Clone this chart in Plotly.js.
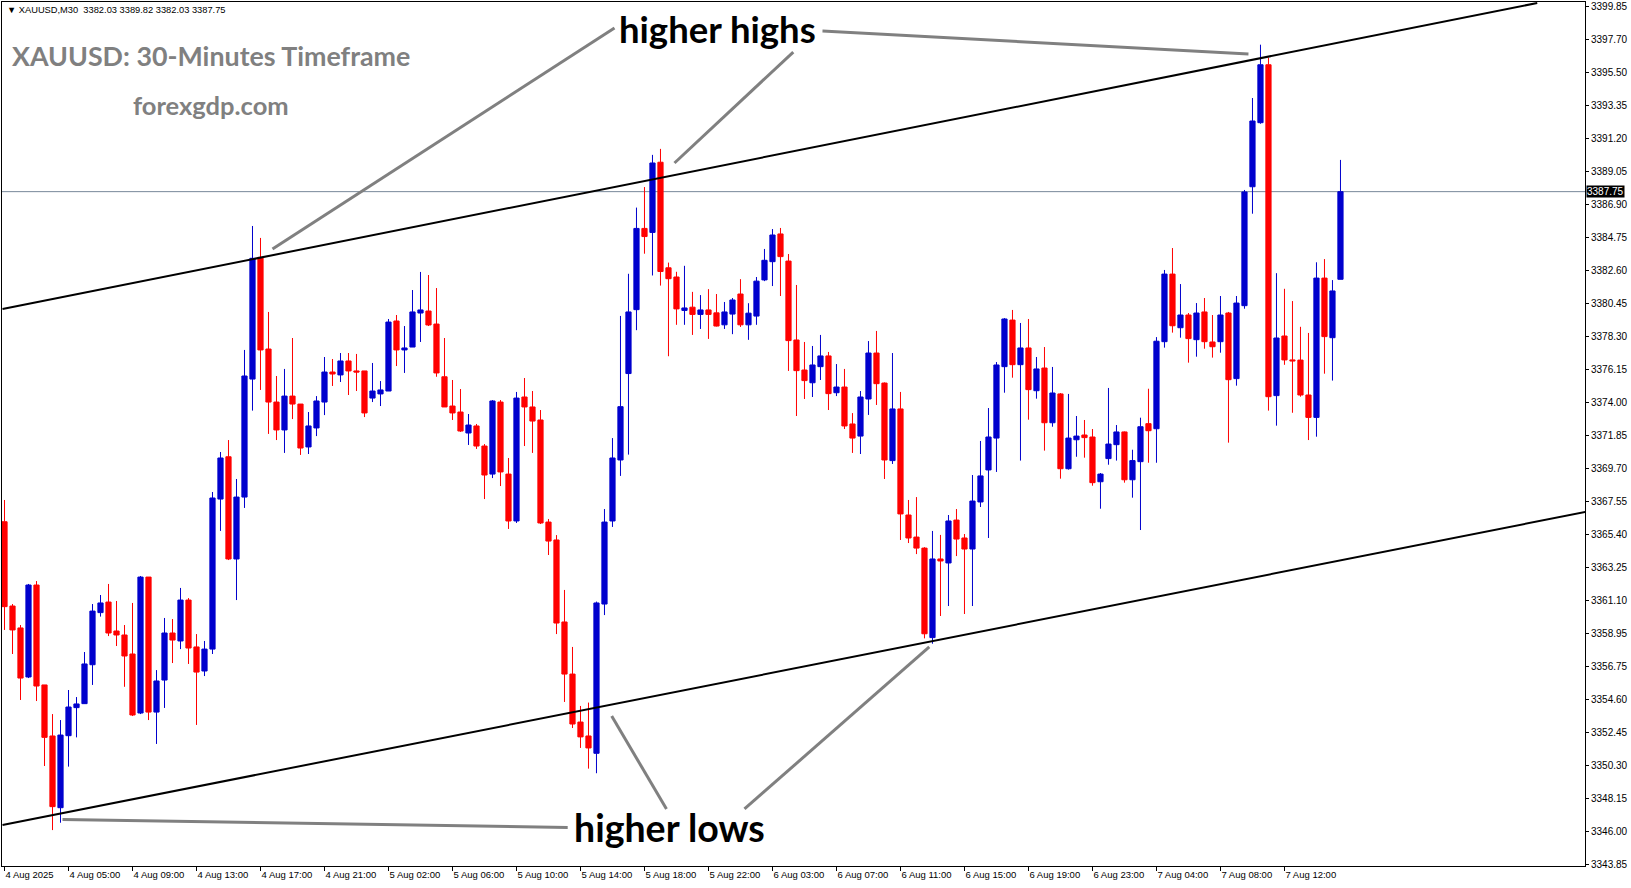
<!DOCTYPE html>
<html>
<head>
<meta charset="utf-8">
<script src="https://cdn.plot.ly/plotly-3.0.1.min.js"></script>
<style>
  html, body { margin: 0; padding: 0; background: #ffffff; }
  #chart { width: 1631px; height: 888px; }
</style>
</head>
<body>
<div id="chart"></div>
<script>
// ---- XAUUSD M30 bars (4 Aug 2025 01:00 .. 7 Aug 2025 12:30), index 0..167 ----
const openP = [
3366.21,3360.71,3359.28,3356.08,3362.08,3355.56,3352.23,3347.55,3352.25,3354.08,
3354.34,3356.88,3360.28,3360.97,3359.08,3358.82,3357.58,3353.73,3362.60,3353.79,
3355.88,3358.95,3358.43,3361.10,3358.04,3356.47,3357.90,3367.69,3370.45,3363.78,
3367.82,3375.52,3383.46,3377.48,3374.02,3372.20,3374.41,3373.89,3371.09,3372.33,
3374.02,3375.98,3375.79,3376.70,3376.05,3376.05,3374.28,3374.55,3374.74,3379.31,
3377.42,3377.61,3379.83,3379.96,3379.11,3375.67,3373.76,3373.37,3372.00,3372.46,
3371.15,3369.32,3374.02,3369.32,3366.26,3374.35,3373.70,3372.85,3366.19,3365.02,
3359.67,3356.27,3353.14,3352.23,3351.10,3360.84,3366.26,3370.24,3375.88,3380.05,
3385.35,3385.09,3389.67,3382.78,3382.18,3380.00,3380.21,3379.74,3380.03,3379.84,
3379.06,3379.76,3381.07,3379.06,3379.63,3381.99,3383.18,3384.99,3383.22,3378.07,
3376.11,3375.28,3376.33,3377.03,3374.63,3375.00,3372.59,3371.80,3374.22,3377.22,
3375.26,3370.20,3373.57,3366.65,3365.21,3364.49,3358.65,3363.78,3363.52,3366.32,
3365.15,3364.43,3367.50,3369.59,3371.67,3376.33,3379.37,3376.46,3377.55,3374.76,
3376.24,3372.67,3374.55,3369.67,3371.56,3371.87,3371.74,3368.82,3370.33,3371.24,
3372.07,3368.95,3370.13,3372.61,3372.28,3377.96,3382.37,3378.87,3379.70,3378.09,
3379.90,3377.94,3377.96,3379.83,3375.55,3380.31,3388.07,3392.25,3396.03,3374.44,
3378.33,3376.77,3376.76,3374.48,3373.02,3382.11,3378.22,3382.03
];
const highP = [
3367.63,3360.84,3359.47,3362.15,3362.34,3355.56,3353.66,3353.27,3355.23,3354.77,
3357.71,3360.84,3361.43,3362.15,3361.04,3359.47,3360.91,3362.67,3362.60,3356.53,
3359.93,3359.86,3361.89,3361.23,3358.88,3358.43,3368.15,3370.76,3371.54,3369.00,
3377.42,3385.51,3384.73,3379.90,3375.72,3376.18,3378.20,3373.89,3373.37,3374.41,
3376.96,3376.83,3377.22,3377.22,3377.16,3376.05,3376.57,3375.39,3379.44,3379.70,
3378.98,3381.33,3382.51,3382.31,3381.46,3378.20,3375.46,3374.87,3373.24,3372.59,
3371.28,3374.15,3374.15,3370.37,3374.68,3375.59,3374.74,3373.50,3366.39,3365.34,
3361.76,3358.04,3354.19,3354.41,3361.00,3367.04,3371.67,3379.64,3382.39,3386.71,
3388.05,3390.15,3390.54,3383.12,3382.52,3382.91,3381.21,3381.00,3381.39,3381.07,
3380.55,3380.81,3382.04,3380.47,3382.18,3384.01,3385.31,3385.38,3383.68,3381.66,
3377.94,3377.68,3378.40,3377.29,3376.50,3376.18,3373.30,3374.74,3378.00,3378.66,
3375.30,3377.22,3374.68,3367.63,3367.82,3364.55,3365.61,3365.35,3366.65,3367.04,
3365.41,3369.26,3371.48,3373.63,3376.63,3379.50,3380.03,3379.18,3379.44,3376.96,
3377.61,3376.31,3374.61,3374.55,3373.11,3372.85,3372.26,3369.39,3374.94,3372.52,
3372.10,3370.91,3373.00,3374.89,3378.26,3382.64,3384.07,3381.72,3379.83,3380.48,
3380.81,3379.70,3380.94,3379.90,3380.94,3387.86,3393.86,3397.34,3396.49,3382.43,
3381.41,3380.61,3378.93,3378.53,3383.14,3383.35,3381.98,3389.82
];
const lowP = [
3359.15,3357.58,3354.58,3356.01,3354.51,3350.27,3346.09,3346.57,3350.23,3352.14,
3354.32,3355.56,3360.02,3358.75,3358.10,3355.44,3353.53,3353.66,3353.27,3351.71,
3354.06,3356.99,3357.90,3356.93,3352.95,3356.14,3357.58,3365.61,3363.71,3361.10,
3367.11,3373.46,3374.81,3371.94,3371.54,3370.70,3372.91,3370.57,3370.63,3371.80,
3373.17,3375.07,3375.33,3374.48,3374.74,3373.04,3374.02,3373.76,3374.74,3376.37,
3375.92,3377.61,3377.94,3378.98,3375.67,3373.70,3372.85,3372.07,3371.22,3370.96,
3367.69,3369.06,3368.54,3365.74,3366.13,3371.15,3370.70,3366.06,3364.04,3358.88,
3354.45,3352.75,3351.45,3350.10,3349.80,3360.12,3365.87,3369.20,3370.59,3378.71,
3383.70,3382.28,3381.62,3377.01,3379.06,3379.06,3378.40,3378.79,3378.14,3378.95,
3378.79,3378.45,3378.92,3378.08,3379.06,3381.91,3381.59,3380.94,3376.05,3373.11,
3374.22,3374.35,3375.46,3373.50,3374.41,3372.26,3370.70,3370.63,3373.18,3373.83,
3369.00,3369.98,3365.02,3364.82,3364.10,3358.60,3358.25,3360.06,3360.71,3363.97,
3360.19,3360.71,3367.17,3365.15,3369.46,3374.63,3375.61,3370.20,3372.87,3374.24,
3370.85,3372.41,3369.02,3369.61,3370.45,3370.39,3368.56,3367.06,3369.93,3370.20,
3368.76,3367.78,3365.67,3370.06,3370.06,3377.57,3378.55,3378.22,3376.59,3376.98,
3377.50,3376.92,3377.24,3371.37,3375.09,3380.11,3386.31,3392.18,3373.46,3372.48,
3376.45,3373.32,3374.37,3371.54,3371.76,3375.87,3375.42,3382.03
];
const closeP = [
3360.67,3359.15,3356.01,3362.08,3355.49,3352.14,3347.62,3352.29,3354.12,3354.32,
3356.93,3360.38,3360.91,3358.95,3358.82,3357.45,3353.60,3362.60,3353.79,3355.82,
3358.95,3358.49,3361.10,3357.97,3356.40,3357.90,3367.76,3370.37,3363.78,3367.82,
3375.72,3383.40,3377.42,3374.02,3372.20,3374.41,3373.89,3371.02,3372.46,3374.09,
3375.98,3375.85,3376.70,3376.05,3375.98,3373.31,3374.74,3374.81,3379.24,3377.42,
3377.55,3379.90,3380.03,3379.05,3375.92,3373.70,3373.31,3372.13,3372.52,3371.15,
3369.26,3374.09,3369.46,3366.26,3374.28,3373.70,3372.78,3366.13,3364.95,3359.60,
3356.27,3353.01,3352.17,3351.45,3360.91,3366.19,3370.37,3373.72,3379.90,3385.35,
3384.82,3389.62,3382.54,3382.07,3380.10,3380.16,3379.74,3380.03,3379.74,3378.98,
3379.90,3380.68,3379.06,3379.82,3381.91,3383.27,3384.92,3383.51,3378.03,3376.07,
3375.42,3376.44,3377.03,3374.57,3375.00,3372.46,3371.67,3374.35,3377.22,3375.22,
3370.24,3373.57,3366.72,3365.15,3364.49,3358.90,3363.78,3363.65,3366.26,3365.08,
3364.43,3367.56,3369.20,3371.74,3376.44,3379.44,3376.46,3377.55,3374.83,3376.18,
3372.67,3374.61,3369.67,3371.67,3371.80,3371.70,3368.76,3369.32,3371.28,3372.07,
3368.95,3370.20,3372.41,3372.15,3377.99,3382.37,3379.00,3379.70,3378.16,3379.83,
3377.96,3377.63,3379.70,3375.48,3380.48,3387.73,3392.36,3396.03,3374.37,3378.20,
3376.77,3376.71,3374.48,3373.02,3382.11,3378.29,3381.27,3387.75
];

// time-axis labels (every 8th bar)
const xTickIdx = [0,8,16,24,32,40,48,56,64,72,80,88,96,104,112,120,128,136,144,152,160];
const xTickText = ["4 Aug 2025","4 Aug 05:00","4 Aug 09:00","4 Aug 13:00","4 Aug 17:00","4 Aug 21:00",
  "5 Aug 02:00","5 Aug 06:00","5 Aug 10:00","5 Aug 14:00","5 Aug 18:00","5 Aug 22:00",
  "6 Aug 03:00","6 Aug 07:00","6 Aug 11:00","6 Aug 15:00","6 Aug 19:00","6 Aug 23:00",
  "7 Aug 04:00","7 Aug 08:00","7 Aug 12:00"];
// price-axis labels
const yTickVals = [3399.85,3397.70,3395.50,3393.35,3391.20,3389.05,3386.90,3384.75,3382.60,3380.45,
  3378.30,3376.15,3374.00,3371.85,3369.70,3367.55,3365.40,3363.25,3361.10,3358.95,3356.75,
  3354.60,3352.45,3350.30,3348.15,3346.00,3343.85];
const yTickText = yTickVals.map(v => v.toFixed(2));

const lastPrice = 3387.75;
const headerText = "XAUUSD,M30  3382.03 3389.82 3382.03 3387.75";

// channel lines [bar index, price]
const channelUpper = [[-0.25, 3380.09], [191.6, 3400.06]];
const channelLower = [[-0.25, 3346.42], [197.63, 3366.85]];
// pointer lines from the labels
const pointerLines = [
  [[33.5, 3384.01], [76.25, 3398.43]],
  [[83.75, 3389.62], [98.6, 3396.86]],
  [[102.25, 3398.23], [155.5, 3396.73]],
  [[7.25, 3346.78], [70.4, 3346.26]],
  [[75.9, 3353.53], [82.75, 3347.47]],
  [[92.5, 3347.47], [115.6, 3358.04]]
];

// ---- layout helpers ----
const W = 1631, H = 888;
const M = {l: 2, r: 46, t: 2, b: 22};
const PW = W - M.l - M.r, PH = H - M.t - M.b;
const px = x => (x - M.l) / PW;          // page px -> paper x
const py = y => (H - M.b - y) / PH;      // page px -> paper y

const xIdx = openP.map((_, i) => i);

const trace = {
  type: 'candlestick',
  x: xIdx, open: openP, high: highP, low: lowP, close: closeP,
  increasing: {line: {color: '#0000cd', width: 1}, fillcolor: '#0000cd'},
  decreasing: {line: {color: '#ff0000', width: 1}, fillcolor: '#ff0000'},
  whiskerwidth: 0,
  hoverinfo: 'skip',
  showlegend: false
};

const shapes = [
  {type: 'line', xref: 'paper', yref: 'y', x0: 0, x1: 1, y0: lastPrice, y1: lastPrice,
   line: {color: '#778899', width: 1}, layer: 'below'},
  {type: 'line', xref: 'x', yref: 'y', x0: channelUpper[0][0], y0: channelUpper[0][1],
   x1: channelUpper[1][0], y1: channelUpper[1][1], line: {color: '#000000', width: 2}},
  {type: 'line', xref: 'x', yref: 'y', x0: channelLower[0][0], y0: channelLower[0][1],
   x1: channelLower[1][0], y1: channelLower[1][1], line: {color: '#000000', width: 2}}
];
pointerLines.forEach(p => shapes.push({
  type: 'line', xref: 'x', yref: 'y', x0: p[0][0], y0: p[0][1], x1: p[1][0], y1: p[1][1],
  line: {color: '#808080', width: 3}
}));

const bigFont = 'Lato, "Open Sans", sans-serif';
const annotations = [
  {xref: 'paper', yref: 'paper', x: px(5), y: py(10), xanchor: 'left', yanchor: 'middle',
   text: '▼ ' + headerText, showarrow: false,
   font: {family: '"Liberation Sans", Arial, sans-serif', size: 9.3, color: '#000000'}},
  {xref: 'paper', yref: 'paper', x: px(10), y: py(56), xanchor: 'left', yanchor: 'middle',
   text: '<b>XAUUSD: 30-Minutes Timeframe</b>', showarrow: false,
   font: {family: bigFont, size: 26.8, color: '#808080'}},
  {xref: 'paper', yref: 'paper', x: px(131), y: py(105), xanchor: 'left', yanchor: 'middle',
   text: '<b>forexgdp.com</b>', showarrow: false,
   font: {family: bigFont, size: 25.5, color: '#808080'}},
  {xref: 'paper', yref: 'paper', x: px(617), y: py(29), xanchor: 'left', yanchor: 'middle',
   text: '<b>higher highs</b>', showarrow: false,
   font: {family: bigFont, size: 36.5, color: '#000000'}},
  {xref: 'paper', yref: 'paper', x: px(572), y: py(827), xanchor: 'left', yanchor: 'middle',
   text: '<b>higher lows</b>', showarrow: false,
   font: {family: bigFont, size: 37.5, color: '#000000'}},
  {xref: 'paper', yref: 'y', x: 1, y: lastPrice, xanchor: 'left', yanchor: 'middle',
   xshift: 1, text: lastPrice.toFixed(2), showarrow: false, bgcolor: '#000000', borderpad: 0,
   font: {family: '"Liberation Sans", Arial, sans-serif', size: 10, color: '#ffffff'}}
];

const layout = {
  width: W, height: H,
  margin: M,
  paper_bgcolor: '#ffffff', plot_bgcolor: '#ffffff',
  showlegend: false,
  boxgap: 0.35, boxgroupgap: 0,
  xaxis: {
    range: [-0.3125, 197.5675], fixedrange: true,
    rangeslider: {visible: false},
    showgrid: false, zeroline: false,
    showline: true, linecolor: '#000000', linewidth: 1, mirror: true,
    tickmode: 'array', tickvals: xTickIdx, ticktext: xTickText,
    ticks: 'outside', ticklen: 4, tickcolor: '#000000', tickwidth: 1,
    ticklabelposition: 'outside right',
    tickfont: {family: '"Liberation Sans", Arial, sans-serif', size: 9.5, color: '#000000'}
  },
  yaxis: {
    range: [3343.746, 3400.125], fixedrange: true,
    side: 'right',
    showgrid: false, zeroline: false,
    showline: true, linecolor: '#000000', linewidth: 1, mirror: true,
    tickmode: 'array', tickvals: yTickVals, ticktext: yTickText,
    ticks: 'outside', ticklen: 3, tickcolor: '#000000', tickwidth: 1,
    tickfont: {family: '"Liberation Sans", Arial, sans-serif', size: 10, color: '#000000'}
  },
  shapes: shapes,
  annotations: annotations
};

Plotly.newPlot('chart', [trace], layout, {displayModeBar: false, staticPlot: true});
</script>
</body>
</html>
